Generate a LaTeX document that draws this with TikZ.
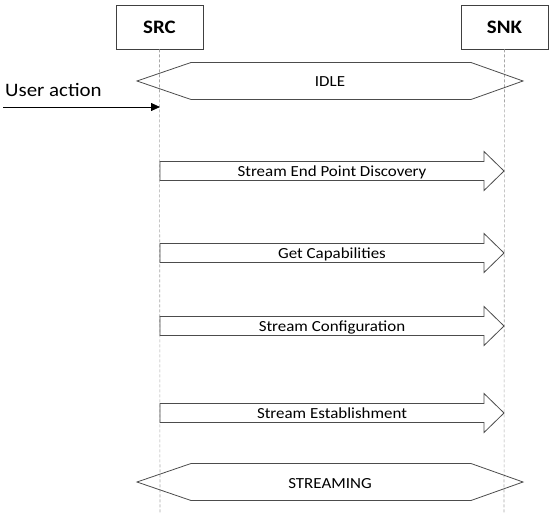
\documentclass[tikz,border=0pt]{standalone}
\usepackage{fontspec}
\setmainfont{Carlito}[FakeStretch=1.1]
\usetikzlibrary{arrows.meta}
\tikzset{
  actor/.style={draw=black!75, line width=0.8pt, minimum width=87pt, minimum height=44pt, inner sep=0pt, font=\fontsize{19}{21}\selectfont\bfseries},
  lifeline/.style={draw=black!35, dashed, dash pattern=on 3pt off 2pt, line width=0.6pt},
  hexa/.style={draw=black!70, line width=0.8pt},
  msgarrow/.style={draw=black!70, line width=0.8pt, line join=miter},
  lbl/.style={anchor=base, inner sep=0pt, font=\fontsize{15.4}{17}\selectfont},
  ualbl/.style={anchor=base west, inner sep=0pt, font=\fontsize{19}{21}\selectfont},
  uaarrow/.style={draw=black, line width=0.8pt, -{Triangle[length=9pt,width=8pt]}}
}
\newcommand\msgarr[3]{%
  \draw[msgarrow] (160,#1-9.5) -- (484,#1-9.5) -- (484,#1-19.5) -- (504,#1)
     -- (484,#1+19.5) -- (484,#1+9.5) -- (160,#1+9.5) -- cycle;
  \node[lbl] (#3) at (332,#1+5) {#2};}
\newcommand\hexag[3]{%
  \draw[hexa] (137,#1) -- (191,#1-18.5) -- (471,#1-18.5) -- (523,#1)
     -- (471,#1+18.5) -- (191,#1+18.5) -- cycle;
  \node[lbl] (#3) at (330,#1+6) {#2};}
\begin{document}
\begin{tikzpicture}[x=1pt,y=-1pt]
\useasboundingbox (0,0) rectangle (553,513);
\node[actor] (src) at (159.5,27) {SRC};
\node[actor] (snk) at (504.5,27) {SNK};
\coordinate (srcend) at (160,513);
\coordinate (snkend) at (504,513);
\draw[lifeline] (src.south) -- (srcend);
\draw[lifeline] (snk.south) -- (snkend);
\hexag{81}{IDLE}{idle}
\node[ualbl] (ualabel) at (5,97) {User action};
\coordinate (uastart) at (3,107);
\coordinate (uaend) at (160,107);
\draw[uaarrow] (uastart) -- (uaend);
\msgarr{171}{Stream End Point Discovery}{sepd}
\msgarr{253}{Get Capabilities}{getcap}
\msgarr{326}{Stream Configuration}{sconf}
\msgarr{413}{Stream Establishment}{sest}
\hexag{482}{STREAMING}{streaming}
\end{tikzpicture}
\end{document}
